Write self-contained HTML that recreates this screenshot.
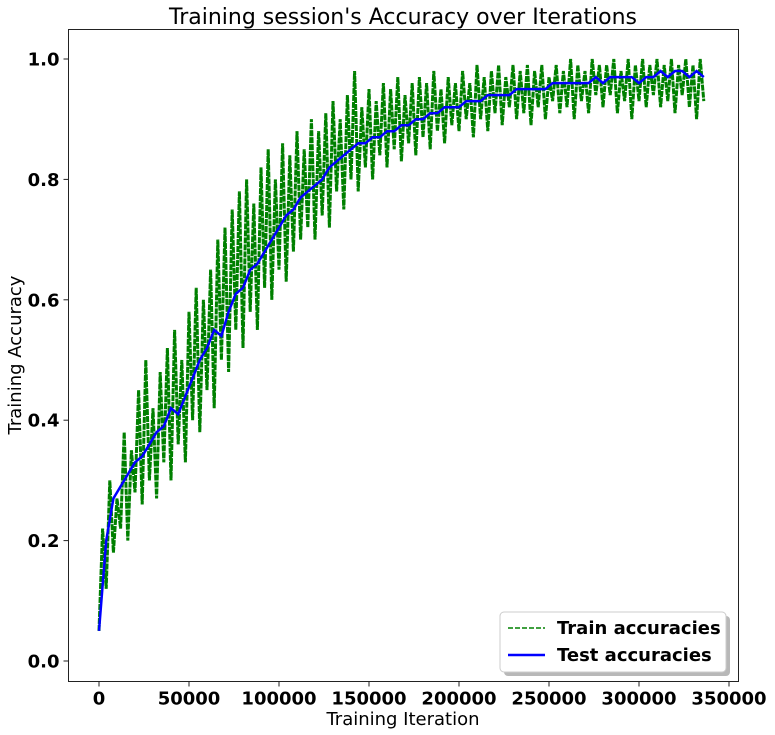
<!DOCTYPE html>
<html><head><meta charset="utf-8"><style>
body{margin:0;background:#fff;}
svg{display:block;font-family:"DejaVu Sans","Liberation Sans",sans-serif;}
</style></head><body>
<svg id="chart" width="775" height="735"></svg>
<script>
const trainX0 = 0, trainStep = 2000;
const trainAcc = [.05,.22,.12,.30,.18,.27,.22,.38,.20,.35,
.28,.45,.26,.50,.30,.42,.27,.48,.33,.52,
.30,.55,.36,.50,.33,.58,.40,.62,.38,.60,
.45,.65,.42,.70,.50,.72,.48,.75,.55,.78,
.52,.80,.58,.76,.55,.82,.62,.85,.60,.80,
.65,.86,.63,.84,.68,.88,.70,.85,.72,.90,
.70,.88,.74,.91,.72,.93,.78,.90,.75,.94,
.80,.98,.78,.92,.82,.95,.80,.93,.84,.96,
.82,.95,.85,.97,.83,.94,.86,.96,.84,.97,
.87,.96,.85,.98,.88,.95,.86,.97,.89,.96,
.88,.98,.90,.96,.87,.99,.90,.97,.88,.98,
.91,.99,.89,.97,.92,.99,.90,.98,.91,.99,
.89,.98,.92,.99,.90,.97,.93,.99,.91,.98,
.92,1.0,.90,.99,.93,.98,.91,1.0,.94,.99,
.92,.99,.94,1.0,.91,.98,.93,1.0,.90,.99,
.93,1.0,.92,.99,.94,1.0,.92,.99,.93,1.0,
.91,.99,.94,1.0,.92,.99,.90,1.0,.93];
const testStep = 4000;
const testAcc = [.05,.20,.27,.29,.31,.33,.34,.36,.38,.39,
.42,.41,.44,.47,.50,.52,.55,.54,.58,.61,
.62,.65,.66,.68,.70,.72,.74,.75,.77,.78,
.79,.80,.82,.83,.84,.85,.86,.86,.87,.87,
.88,.88,.89,.89,.90,.90,.91,.91,.92,.92,
.92,.93,.93,.93,.94,.94,.94,.94,.95,.95,
.95,.95,.95,.96,.96,.96,.96,.96,.96,.97,
.96,.97,.97,.97,.97,.96,.97,.97,.98,.97,
.98,.98,.97,.98,.97];
const xTicks = [0,50000,100000,150000,200000,250000,300000,350000];
const yTicks = [0.0,0.2,0.4,0.6,0.8,1.0];

const NS="http://www.w3.org/2000/svg";
const svg=document.getElementById('chart');
function el(t,a,p){const e=document.createElementNS(NS,t);for(const k in a)e.setAttribute(k,a[k]);(p||svg).appendChild(e);return e;}
const L=68.5,R=738.5,T=29.5,B=681.5;
const xs=v=>99+v*(729-99)/350000;
const ys=v=>661-v*(661-59);

let p=trainAcc.map((v,i)=>(i?'L':'M')+xs(trainX0+i*trainStep).toFixed(1)+','+ys(v).toFixed(1)).join('');
let e=el('path',{d:p,fill:'none',stroke:'#008000','stroke-width':3,'stroke-dasharray':'6,1'});


p=testAcc.map((v,i)=>(i?'L':'M')+xs(i*testStep).toFixed(1)+','+ys(v).toFixed(1)).join('');
e=el('path',{d:p,fill:'none',stroke:'#0000ff','stroke-width':2.5});



e=el('rect',{x:L,y:T,width:R-L,height:B-T,fill:'none',stroke:'#222','stroke-width':1});



xTicks.forEach(v=>{const x=xs(v);
 el('line',{x1:x,x2:x,y1:B,y2:B+5,stroke:'#222'});
 const t=el('text',{x:x,y:B+23,'text-anchor':'middle','font-size':18,'font-weight':'bold'});t.textContent=v;
 
 
});
yTicks.forEach(v=>{const y=ys(v);
 el('line',{x1:L-5,x2:L,y1:y,y2:y,stroke:'#222'});
 const t=el('text',{x:L-9,y:y+6.5,'text-anchor':'end','font-size':18,'font-weight':'bold'});t.textContent=v.toFixed(1);
 
 
});
</script>
<svg style="position:absolute;left:0;top:0" width="775" height="735">
<text x="403" y="24" text-anchor="middle" font-size="22" font-family="DejaVu Sans,sans-serif">Training session's Accuracy over Iterations</text>
<text x="403" y="725" text-anchor="middle" font-size="18" font-family="DejaVu Sans,sans-serif">Training Iteration</text>
<text transform="translate(21,355) rotate(-90)" text-anchor="middle" font-size="18" font-family="DejaVu Sans,sans-serif">Training Accuracy</text>
<g>
<rect x="504" y="616" width="226" height="60" rx="4" fill="#888" opacity="0.6"/>
<rect x="500" y="612" width="226" height="60" rx="4" fill="#fff" stroke="#ccc"/>
<line x1="508" x2="545" y1="628" y2="628" stroke="#008000" stroke-width="1.6" stroke-dasharray="5,2"/>
<text x="557" y="634" font-size="18" font-weight="bold" font-family="DejaVu Sans,sans-serif">Train accuracies</text>
<line x1="508" x2="545" y1="655" y2="655" stroke="#0000ff" stroke-width="2.5"/>
<text x="557" y="661" font-size="18" font-weight="bold" font-family="DejaVu Sans,sans-serif">Test accuracies</text>
</g>
</svg>
</body></html>
